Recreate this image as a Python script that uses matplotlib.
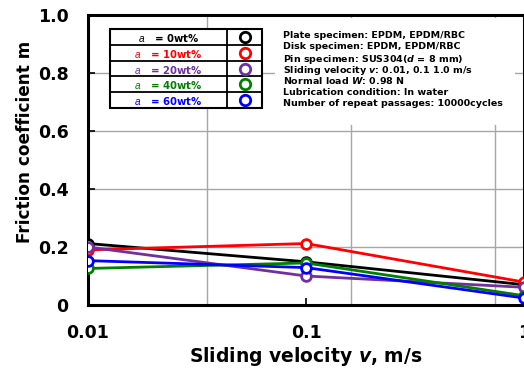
import numpy as np
import matplotlib
matplotlib.use("Agg")
import matplotlib.pyplot as plt
from matplotlib.lines import Line2D
from matplotlib.patches import Rectangle

# --- data ---
VELOCITY = [0.01, 0.1, 1.0]
LABELS = ["0wt%", "10wt%", "20wt%", "40wt%", "60wt%"]
COLORS = ["#000000", "#FF0000", "#7030A0", "#008000", "#0000FF"]
MU_0 = [0.212, 0.149, 0.070]
MU_10 = [0.190, 0.212, 0.079]
MU_20 = [0.200, 0.100, 0.061]
MU_40 = [0.126, 0.145, 0.032]
MU_60 = [0.153, 0.129, 0.024]
SERIES = [MU_0, MU_10, MU_20, MU_40, MU_60]
Y_TICKS = [0, 0.2, 0.4, 0.6, 0.8, 1.0]
Y_TICKLABELS = ["0", "0.2", "0.4", "0.6", "0.8", "1.0"]
X_TICKS = [0.01, 0.1, 1.0]
X_TICKLABELS = ["0.01", "0.1", "1"]
X_GRID = [0.0351, 0.161, 0.736]      # odd vertical grid lines seen in the reference
CONDITIONS = ["Plate specimen: EPDM, EPDM/RBC",
              "Disk specimen: EPDM, EPDM/RBC",
              r"Pin specimen: SUS304($d$ = 8 mm)",
              r"Sliding velocity $v$: 0.01, 0.1 1.0 m/s",
              r"Normal load $W$: 0.98 N",
              "Lubrication condition: In water",
              "Number of repeat passages: 10000cycles"]

plt.rcParams["mathtext.fontset"] = "custom"
plt.rcParams["mathtext.it"] = "DejaVu Sans:style=italic:weight=bold"
plt.rcParams["mathtext.rm"] = "DejaVu Sans:weight=bold"
plt.rcParams["mathtext.sf"] = "Liberation Sans:style=italic"

W, H = 524, 375
fig = plt.figure(figsize=(W / 100, H / 100), dpi=100)
ax = fig.add_axes([88 / W, 1 - 305 / H, (W - 88) / W, 290 / H])

def fx(x):
    return x / W

def fy(y):
    return 1 - y / H

ax.set_xscale("log")
ax.set_xlim(0.01, 1.0)
ax.set_ylim(0, 1.0)

for mu, c in zip(SERIES, COLORS):
    ax.plot(VELOCITY, mu, color=c, lw=2, marker="o", ms=7, mfc="white",
            mec=c, mew=2, zorder=3)

ax.set_yticks(Y_TICKS)
ax.set_yticklabels(Y_TICKLABELS)
ax.set_xticks(X_TICKS)
ax.set_xticklabels(X_TICKLABELS)
ax.set_xticks(X_GRID, minor=True)
ax.tick_params(which="minor", length=0)
ax.tick_params(which="major", direction="in", length=5, width=1.2, pad=14)
for lbl in ax.get_xticklabels() + ax.get_yticklabels():
    lbl.set_family("DejaVu Sans"); lbl.set_weight("bold"); lbl.set_fontsize(12.5)
ax.grid(True, axis="y", which="major", color="#a6a6a6", lw=1, zorder=0)
ax.grid(True, axis="x", which="minor", color="#a6a6a6", lw=1, zorder=0)
for s in ax.spines.values():
    s.set_linewidth(2.2)

ax.set_xlabel(r"Sliding velocity $v$, m/s", family="DejaVu Sans",
              weight="bold", fontsize=13.5)
ax.xaxis.set_label_coords(0.5, (305 - 345) / 290)
ax.set_ylabel("Friction coefficient m", family="DejaVu Sans", weight="bold",
              fontsize=12.2)
ax.yaxis.set_label_coords((34 - 88) / 436, (305 - 142) / 290)

# white panel behind the test conditions
fig.add_artist(Rectangle((fx(275), fy(125)), fx(240), 107 / H, transform=fig.transFigure,
                         facecolor="white", edgecolor="none", zorder=2))
for i, line in enumerate(CONDITIONS):
    fig.text(fx(283), fy(34 + i * 11.5), line, ha="left", va="center_baseline",
             family="DejaVu Sans", weight="bold", fontsize=6.8, zorder=4)

# table-like legend
top, bot, left, right, mid = 29, 108, 110, 262, 227
fig.add_artist(Rectangle((fx(left), fy(bot)), fx(right - left), (bot - top) / H,
                         transform=fig.transFigure, facecolor="white", edgecolor="black",
                         lw=1.5, zorder=4))
fig.add_artist(Line2D([fx(mid), fx(mid)], [fy(top), fy(bot)], transform=fig.transFigure,
                      color="black", lw=1.3, zorder=5))
row_h = (bot - top) / len(LABELS)
for i, (lab, c) in enumerate(zip(LABELS, COLORS)):
    if i > 0:
        yy = top + i * row_h
        fig.add_artist(Line2D([fx(left), fx(right)], [fy(yy), fy(yy)],
                              transform=fig.transFigure, color="black", lw=1.3, zorder=5))
    yc = top + (i + 0.5) * row_h
    fig.text(fx((left + mid) / 2), fy(yc), r"$\mathsf{a}$   = " + lab, ha="center",
             va="center_baseline", family="DejaVu Sans", weight="bold", fontsize=7.3,
             color=c, zorder=6)
    fig.add_artist(Line2D([fx((mid + right) / 2)], [fy(yc)], transform=fig.transFigure,
                          marker="o", ms=7.5, mfc="white", mec=c, mew=2, zorder=6))

fig.savefig("out.png", dpi=100)
